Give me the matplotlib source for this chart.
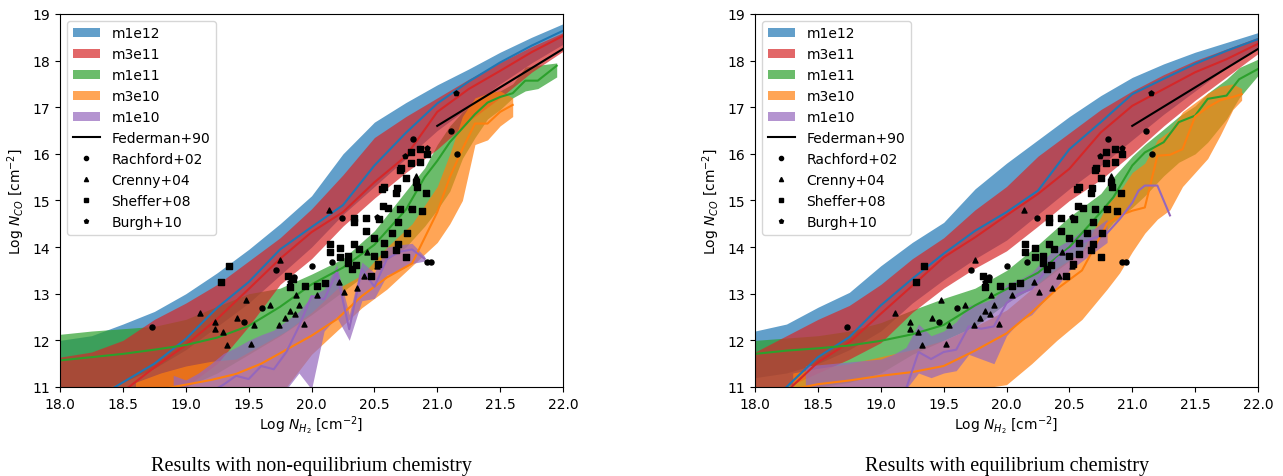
import numpy as np
import matplotlib
matplotlib.use("Agg")
import matplotlib.pyplot as plt
from matplotlib.patches import Patch
from matplotlib.lines import Line2D

# ---------------- data: non-equilibrium panel ----------------
ne_bigx = [18.0, 18.25, 18.5, 18.75, 19.0, 19.25, 19.5, 19.75, 20.0, 20.25, 20.5, 20.75, 21.0, 21.25, 21.5, 21.75, 22.0]
ne_m1e12_hi = [12.0, 12.1, 12.35, 12.62, 13.0, 13.45, 13.95, 14.5, 15.1, 16.0, 16.68, 17.1, 17.48, 17.82, 18.18, 18.5, 18.79]
ne_m1e12_md = [10.3, 10.7, 11.1, 11.5, 12.03, 12.7, 13.25, 13.95, 14.43, 14.9, 15.75, 16.45, 17.08, 17.55, 17.96, 18.32, 18.64]
ne_m1e12_lo = [10.8, 10.9, 11.1, 11.4, 11.8, 12.3, 12.8, 13.4, 14.0, 14.7, 15.3, 15.9, 16.5, 17.0, 17.5, 17.95, 18.35]
ne_m3e11_hi = [11.64, 11.75, 12.0, 12.45, 12.8, 13.2, 13.7, 14.2, 14.82, 15.55, 16.35, 16.8, 17.2, 17.6, 17.96, 18.3, 18.6]
ne_m3e11_md = [10.1, 10.5, 10.9, 11.42, 11.9, 12.46, 13.1, 13.75, 14.32, 14.75, 15.39, 15.95, 16.9, 17.39, 17.78, 18.18, 18.53]
ne_m3e11_lo = [10.5, 10.55, 10.7, 10.9, 11.0, 11.5, 12.3, 13.2, 13.75, 14.45, 15.05, 15.6, 16.1, 16.7, 17.2, 17.75, 18.2]

ne_m1e11_x = [18.0, 18.25, 18.5, 18.75, 19.0, 19.25, 19.5, 19.75, 20.0, 20.25, 20.5, 20.75, 20.9, 21.0, 21.1, 21.2, 21.3, 21.4, 21.5, 21.6, 21.7, 21.8, 21.95]
ne_m1e11_md = [11.57, 11.64, 11.71, 11.8, 11.9, 12.06, 12.31, 12.72, 13.2, 13.56, 14.05, 14.8, 15.5, 15.85, 16.25, 16.55, 16.85, 17.1, 17.22, 17.3, 17.57, 17.57, 17.89]
ne_m1e11_hi = [12.13, 12.2, 12.25, 12.3, 12.45, 12.73, 13.0, 13.12, 13.42, 13.75, 14.35, 15.2, 15.7, 16.2, 16.6, 16.9, 17.1, 17.3, 17.35, 17.5, 17.86, 17.9, 17.95]
ne_m1e11_lo = [10.8, 10.8, 10.85, 10.9, 11.0, 11.3, 11.7, 12.1, 12.55, 13.05, 13.55, 14.0, 14.45, 14.8, 15.2, 15.9, 16.35, 16.75, 16.95, 17.2, 17.35, 17.4, 17.65]

ne_m3e10_x = [18.6, 18.8, 19.0, 19.2, 19.4, 19.6, 19.8, 20.0, 20.2, 20.4, 20.6, 20.8, 21.0, 21.1, 21.2, 21.3, 21.4, 21.5, 21.6]
ne_m3e10_md = [10.8, 10.95, 11.05, 11.15, 11.28, 11.5, 11.8, 12.1, 12.45, 12.95, 13.35, 13.65, 14.75, 15.5, 16.1, 16.65, 16.65, 16.9, 17.05]
ne_m3e10_hi = [11.1, 11.3, 11.45, 11.55, 11.6, 11.9, 12.2, 12.6, 13.1, 13.4, 14.0, 14.5, 15.3, 16.0, 16.8, 17.2, 17.3, 17.35, 17.2]
ne_m3e10_lo = [10.5, 10.6, 10.7, 10.8, 10.9, 10.95, 11.0, 11.7, 12.2, 12.7, 13.1, 13.6, 14.1, 14.5, 15.0, 16.2, 16.3, 16.6, 16.8]

ne_m1e10_x = [18.9, 19.0, 19.1, 19.2, 19.3, 19.4, 19.5, 19.6, 19.7, 19.8, 19.9, 20.0, 20.1, 20.2, 20.3, 20.4, 20.5, 20.6, 20.7, 20.8, 20.9]
ne_m1e10_md = [10.5, 10.7, 10.8, 10.9, 11.05, 11.24, 11.17, 11.45, 11.38, 11.75, 12.3, 12.95, 12.88, 13.45, 12.24, 13.53, 13.15, 13.75, 13.9, 13.95, 13.75]
ne_m1e10_hi = [11.25, 11.15, 11.3, 11.5, 11.72, 11.85, 12.0, 12.12, 12.22, 12.42, 12.62, 12.95, 13.1, 13.62, 12.55, 13.68, 13.45, 14.0, 14.05, 14.08, 13.8]
ne_m1e10_lo = [10.5, 10.5, 10.5, 10.6, 10.7, 10.8, 10.85, 10.9, 10.9, 10.95, 11.3, 10.95, 12.2, 12.5, 12.0, 12.85, 12.9, 13.4, 13.5, 13.65, 13.7]

# ---------------- data: equilibrium panel ----------------
eq_bigx = [18.0, 18.25, 18.5, 18.75, 19.0, 19.25, 19.5, 19.75, 20.0, 20.25, 20.5, 20.75, 21.0, 21.25, 21.5, 21.75, 22.0]
eq_m1e12_hi = [12.2, 12.35, 12.71, 13.03, 13.6, 14.1, 14.53, 15.25, 15.8, 16.3, 16.8, 17.25, 17.64, 17.93, 18.18, 18.39, 18.6]
eq_m1e12_md = [10.4, 11.0, 11.64, 12.07, 12.75, 13.32, 13.86, 14.35, 14.75, 15.21, 16.1, 16.68, 17.28, 17.61, 17.93, 18.21, 18.46]
eq_m1e12_lo = [11.2, 11.3, 11.5, 11.8, 12.2, 12.8, 13.3, 13.75, 14.15, 14.7, 15.25, 15.75, 16.3, 16.85, 17.35, 17.85, 18.3]
eq_m3e11_hi = [11.75, 12.1, 12.45, 12.75, 13.2, 13.75, 14.2, 14.8, 15.3, 15.95, 16.45, 16.95, 17.35, 17.7, 18.0, 18.25, 18.5]
eq_m3e11_md = [10.5, 10.9, 11.53, 11.96, 12.57, 13.17, 13.78, 14.21, 14.68, 15.14, 15.68, 16.46, 17.03, 17.39, 17.75, 18.03, 18.36]
eq_m3e11_lo = [10.8, 11.0, 11.3, 11.6, 11.95, 12.6, 13.12, 13.55, 13.92, 14.45, 15.0, 15.45, 16.0, 16.6, 17.15, 17.65, 18.15]

eq_m1e11_x = [18.0, 18.25, 18.5, 18.75, 19.0, 19.25, 19.5, 19.75, 20.0, 20.25, 20.5, 20.75, 20.85, 21.0, 21.1, 21.25, 21.37, 21.5, 21.6, 21.75, 21.85, 22.0]
eq_m1e11_md = [11.71, 11.78, 11.83, 11.89, 11.99, 12.13, 12.33, 12.75, 13.1, 13.45, 14.0, 14.75, 15.07, 15.75, 16.03, 16.25, 16.68, 16.82, 17.18, 17.25, 17.6, 17.82]
eq_m1e11_hi = [12.0, 12.05, 12.1, 12.2, 12.38, 12.65, 12.9, 13.12, 13.5, 14.05, 14.65, 15.15, 15.5, 15.95, 16.2, 16.53, 16.8, 17.03, 17.3, 17.6, 17.85, 18.03]
eq_m1e11_lo = [10.9, 10.95, 11.0, 11.1, 11.3, 11.7, 12.0, 12.3, 12.8, 13.2, 13.7, 14.2, 14.53, 14.85, 15.1, 15.53, 15.82, 16.0, 16.25, 16.75, 17.2, 17.68]

eq_m3e10_x = [18.3, 18.5, 18.75, 19.0, 19.25, 19.5, 19.75, 20.0, 20.2, 20.4, 20.6, 20.8, 20.9, 21.0, 21.1, 21.2, 21.3, 21.4, 21.5, 21.6, 21.7, 21.8, 21.87]
eq_m3e10_md = [10.95, 11.06, 11.14, 11.24, 11.32, 11.45, 11.78, 12.15, 12.6, 13.1, 13.5, 14.5, 14.68, 14.78, 14.85, 15.96, 15.98, 16.1, 16.8, 17.0, 17.15, 17.22, 17.28]
eq_m3e10_hi = [11.3, 11.4, 11.5, 11.65, 11.8, 12.0, 12.3, 12.65, 13.1, 13.55, 13.9, 14.9, 15.2, 15.6, 15.8, 16.3, 16.5, 16.9, 17.1, 17.3, 17.45, 17.5, 17.4]
eq_m3e10_lo = [10.6, 10.7, 10.75, 10.8, 10.85, 10.9, 10.95, 11.05, 11.5, 12.0, 12.45, 13.1, 13.45, 13.9, 14.3, 14.6, 14.8, 15.3, 15.6, 15.9, 16.4, 16.95, 17.15]

eq_m1e10_bx = [18.4, 18.6, 18.8, 19.0, 19.1, 19.2, 19.3, 19.4, 19.5, 19.6, 19.7, 19.8, 19.9, 20.0, 20.1, 20.2, 20.3, 20.4, 20.5, 20.6, 20.7, 20.8]
eq_m1e10_hi = [11.45, 11.5, 11.55, 11.6, 11.7, 11.85, 12.35, 12.1, 12.2, 12.4, 12.75, 12.8, 12.9, 13.2, 13.3, 13.45, 13.75, 14.0, 14.15, 14.35, 14.4, 14.6]
eq_m1e10_lo = [10.8, 10.8, 10.8, 10.85, 10.9, 10.95, 11.3, 11.2, 11.3, 11.35, 11.7, 11.6, 11.5, 12.1, 12.4, 12.55, 12.85, 13.15, 13.5, 13.7, 13.9, 14.1]
eq_m1e10_lx = [19.1, 19.2, 19.3, 19.4, 19.5, 19.6, 19.7, 19.8, 19.9, 20.0, 20.1, 20.2, 20.3, 20.4, 20.5, 20.6, 20.7, 20.8, 20.9, 21.0, 21.05, 21.1, 21.2, 21.3]
eq_m1e10_md = [10.8, 10.95, 11.75, 11.6, 11.75, 11.8, 12.3, 12.25, 12.3, 12.8, 13.0, 13.1, 13.45, 13.75, 13.95, 14.1, 14.2, 14.3, 14.6, 14.95, 15.21, 15.32, 15.32, 14.68]

# ---------------- observations (same in both panels) ----------------
federman_x = [21.0, 22.0]
federman_y = [16.6, 18.25]

rachford_x = [18.73, 19.46, 19.61, 19.72, 20.00, 20.92, 20.95, 20.24, 20.81, 21.11, 21.16, 19.86, 20.16, 20.79]
rachford_y = [12.29, 12.39, 12.70, 13.50, 13.59, 13.69, 13.69, 14.62, 16.31, 16.48, 16.00, 13.35, 13.67, 14.82]

crenny_x = [19.11, 19.23, 19.23, 19.30, 19.33, 19.41, 19.48, 19.54, 19.52, 19.67, 19.74, 19.75, 19.79, 19.83,
            19.88, 19.90, 19.94, 19.87, 20.14, 20.04, 20.22, 20.26, 20.36, 20.44, 20.42, 20.52, 20.83]
crenny_y = [12.58, 12.40, 12.25, 12.17, 11.91, 12.48, 12.87, 12.33, 11.92, 12.75, 12.33, 13.73, 12.47, 12.62,
            12.97, 12.75, 12.35, 12.57, 14.80, 12.97, 13.25, 13.03, 13.12, 13.89, 13.37, 13.60, 15.53]

sheffer_x = [19.34, 19.28, 19.81, 19.85, 19.83, 19.95, 20.04, 20.11, 20.15, 20.23, 20.29, 20.32, 20.34,
             20.43, 20.43, 20.34, 20.38, 20.50, 20.54, 20.57, 20.61, 20.70, 20.64, 20.58, 20.67, 20.69,
             20.75, 20.76, 20.69, 20.56, 20.58, 20.67, 20.68, 20.70, 20.71, 20.79, 20.86, 20.86, 20.79,
             20.88, 20.92, 20.84, 20.83, 20.91, 20.80, 20.75, 20.15, 20.23, 20.29, 20.47, 20.35, 20.50,
             20.53, 20.58, 20.34]
sheffer_y = [13.60, 13.26, 13.39, 13.32, 13.14, 13.17, 13.17, 13.22, 13.89, 13.99, 13.82, 13.53, 14.62,
             14.62, 14.35, 14.07, 13.96, 14.19, 14.60, 14.89, 14.83, 14.82, 14.30, 14.08, 13.94, 14.07,
             13.78, 14.30, 14.53, 15.25, 15.28, 15.15, 15.26, 15.66, 15.69, 16.05, 16.11, 15.83, 15.81,
             14.77, 16.00, 15.28, 15.40, 15.16, 14.82, 15.48, 14.07, 13.78, 13.66, 13.37, 13.62, 13.82,
             13.64, 13.85, 14.53]

burgh_x = [21.15, 20.43, 20.74, 19.83, 20.52, 20.92]
burgh_y = [17.30, 14.62, 15.96, 13.25, 14.65, 16.13]

# ---------------- drawing ----------------
C = {"m1e12": "tab:blue", "m3e11": "tab:red", "m1e11": "tab:green", "m3e10": "tab:orange", "m1e10": "tab:purple"}
ALPHA = 0.7

fig = plt.figure(figsize=(12.83, 4.77), dpi=100)
axL = fig.add_axes([0.0468, 0.1866, 0.392, 0.782])
axR = fig.add_axes([0.5885, 0.1866, 0.392, 0.782])


def draw(ax, bands, lines):
    for key, x, lo, hi in bands:
        ax.fill_between(x, lo, hi, color=C[key], alpha=ALPHA, linewidth=0)
    for key, x, md in lines:
        ax.plot(x, md, color=C[key], lw=1.5)
    ax.plot(federman_x, federman_y, color="black", lw=1.5)
    ax.scatter(rachford_x, rachford_y, marker="o", s=13, color="black", zorder=5)
    ax.scatter(crenny_x, crenny_y, marker="^", s=13, color="black", zorder=5)
    ax.scatter(sheffer_x, sheffer_y, marker="s", s=13, color="black", zorder=5)
    ax.scatter(burgh_x, burgh_y, marker="p", s=14, color="black", zorder=5)
    ax.set_xlim(18, 22)
    ax.set_ylim(11, 19)
    ax.set_xticks([18.0, 18.5, 19.0, 19.5, 20.0, 20.5, 21.0, 21.5, 22.0])
    ax.set_xlabel(r"Log $N_{H_2}$ [cm$^{-2}$]", fontsize=10, labelpad=2)
    ax.set_ylabel(r"Log $N_{CO}$ [cm$^{-2}$]", fontsize=10, labelpad=4)
    ax.tick_params(labelsize=10)
    handles = [Patch(facecolor=C[k], alpha=ALPHA, label=k) for k in ["m1e12", "m3e11", "m1e11", "m3e10", "m1e10"]]
    handles.append(Line2D([], [], color="black", lw=1.5, label="Federman+90"))
    handles.append(Line2D([], [], color="black", marker="o", ms=3, lw=0, label="Rachford+02"))
    handles.append(Line2D([], [], color="black", marker="^", ms=3, lw=0, label="Crenny+04"))
    handles.append(Line2D([], [], color="black", marker="s", ms=3, lw=0, label="Sheffer+08"))
    handles.append(Line2D([], [], color="black", marker="p", ms=3, lw=0, label="Burgh+10"))
    ax.legend(handles=handles, loc="upper left", fontsize=10)


draw(axL,
     [("m1e12", ne_bigx, ne_m1e12_lo, ne_m1e12_hi),
      ("m1e11", ne_m1e11_x, ne_m1e11_lo, ne_m1e11_hi),
      ("m3e11", ne_bigx, ne_m3e11_lo, ne_m3e11_hi),
      ("m3e10", ne_m3e10_x, ne_m3e10_lo, ne_m3e10_hi),
      ("m1e10", ne_m1e10_x, ne_m1e10_lo, ne_m1e10_hi)],
     [("m1e12", ne_bigx, ne_m1e12_md),
      ("m3e11", ne_bigx, ne_m3e11_md),
      ("m1e11", ne_m1e11_x, ne_m1e11_md),
      ("m3e10", ne_m3e10_x, ne_m3e10_md),
      ("m1e10", ne_m1e10_x, ne_m1e10_md)])

draw(axR,
     [("m1e12", eq_bigx, eq_m1e12_lo, eq_m1e12_hi),
      ("m1e11", eq_m1e11_x, eq_m1e11_lo, eq_m1e11_hi),
      ("m3e11", eq_bigx, eq_m3e11_lo, eq_m3e11_hi),
      ("m3e10", eq_m3e10_x, eq_m3e10_lo, eq_m3e10_hi),
      ("m1e10", eq_m1e10_bx, eq_m1e10_lo, eq_m1e10_hi)],
     [("m1e12", eq_bigx, eq_m1e12_md),
      ("m3e11", eq_bigx, eq_m3e11_md),
      ("m1e11", eq_m1e11_x, eq_m1e11_md),
      ("m3e10", eq_m3e10_x, eq_m3e10_md),
      ("m1e10", eq_m1e10_lx, eq_m1e10_md)])

fig.text(0.2428, 0.023, "Results with non-equilibrium chemistry", ha="center", va="center",
         family="Liberation Serif", fontsize=14.5)
fig.text(0.7846, 0.023, "Results with equilibrium chemistry", ha="center", va="center",
         family="Liberation Serif", fontsize=14.5)

fig.savefig("out.png", dpi=100)
